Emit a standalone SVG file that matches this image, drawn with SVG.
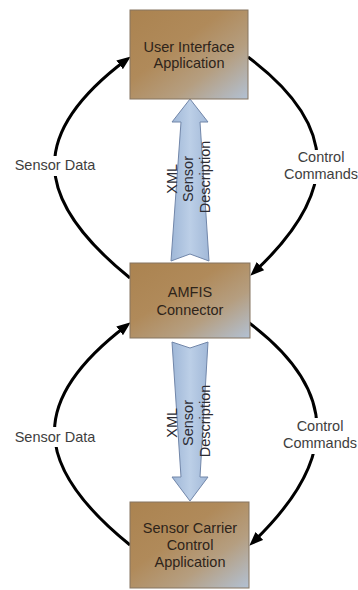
<svg xmlns="http://www.w3.org/2000/svg" width="358" height="590" viewBox="0 0 358 590">
  <defs>
    <linearGradient id="boxFill" x1="0" y1="0" x2="1" y2="1">
      <stop offset="0" stop-color="#ab8350"/>
      <stop offset="0.4" stop-color="#b08a5a"/>
      <stop offset="0.68" stop-color="#b59e80"/>
      <stop offset="1" stop-color="#b2c1d4"/>
    </linearGradient>
    <linearGradient id="flowFill" x1="0" y1="0" x2="1" y2="0">
      <stop offset="0" stop-color="#9fb7d7"/>
      <stop offset="0.5" stop-color="#bccfe7"/>
      <stop offset="1" stop-color="#a2b9d8"/>
    </linearGradient>
    <marker id="head" markerUnits="userSpaceOnUse" markerWidth="14" markerHeight="11" viewBox="0 0 14 11" refX="8" refY="5.5" orient="auto">
      <path d="M0,0 L14,5.5 L0,11 z" fill="#000"/>
    </marker>
  </defs>
  <style>
    .box { fill: url(#boxFill); stroke: #857461; stroke-width: 1; }
    .boxText { font-family: "Liberation Sans", Arial, sans-serif; font-size: 14.5px; fill: #2e241a; text-anchor: middle; }
    .label { font-family: "Liberation Sans", Arial, sans-serif; font-size: 14.5px; fill: #3e3e3e; text-anchor: middle; }
    .flow { fill: url(#flowFill); stroke: #7186a9; stroke-width: 1; }
    .flowText { font-family: "Liberation Sans", Arial, sans-serif; font-size: 14.5px; fill: #2c2c34; text-anchor: middle; }
    .link { fill: none; stroke: #000; stroke-width: 3; marker-end: url(#head); }
    .gap { fill: #fff; }
  </style>

  <rect x="0" y="0" width="358" height="590" fill="#fff"/>

  <!-- curved data / command links -->
  <g id="connectors">
    <path class="link" d="M130,278 C31,198 29,133 126,60"/>
    <path class="link" d="M248,57 C340,126 339,193 254.6,271.6"/>
    <path class="link" d="M130,545 C31,465 29,400 126,326"/>
    <path class="link" d="M248,322 C340,391 338,460 253.6,541.6"/>

    <!-- label backgrounds break the curves -->
    <rect class="gap" x="12" y="156" width="86" height="20"/>
    <rect class="gap" x="284" y="150" width="74" height="34"/>
    <rect class="gap" x="12" y="427" width="86" height="20"/>
    <rect class="gap" x="282" y="418" width="76" height="36"/>

    <text class="label" x="55" y="170">Sensor Data</text>
    <text class="label" x="321" y="162">Control</text>
    <text class="label" x="321" y="179">Commands</text>
    <text class="label" x="55" y="442">Sensor Data</text>
    <text class="label" x="320" y="431">Control</text>
    <text class="label" x="320" y="448">Commands</text>

    <!-- block arrows carrying the sensor description -->
    <g id="flow-up">
      <polygon class="flow" points="190,99 208,122 200,122 209,261 190,254 171,261 181,122 172,122"/>
      <text class="flowText" transform="translate(188,177) rotate(-90)">
        <tspan x="0" y="-11">XML</tspan>
        <tspan x="0" y="5">Sensor</tspan>
        <tspan x="0" y="22">Description</tspan>
      </text>
    </g>
    <g id="flow-down">
      <polygon class="flow" points="172,342 190,348 208,342 200,477 208,477 190,501 172,477 181,477"/>
      <text class="flowText" transform="translate(188,421) rotate(-90)">
        <tspan x="0" y="-11">XML</tspan>
        <tspan x="0" y="5">Sensor</tspan>
        <tspan x="0" y="22">Description</tspan>
      </text>
    </g>
  </g>

  <g id="ui-app">
    <rect class="box" x="130" y="10" width="118" height="89"/>
    <text class="boxText" x="189" y="52">User Interface</text>
    <text class="boxText" x="189" y="68">Application</text>
  </g>

  <g id="amfis-connector">
    <rect class="box" x="130" y="263" width="120" height="75"/>
    <text class="boxText" x="190" y="297">AMFIS</text>
    <text class="boxText" x="190" y="315">Connector</text>
  </g>

  <g id="sensor-carrier">
    <rect class="box" x="130" y="502" width="119" height="86"/>
    <text class="boxText" x="190" y="533">Sensor Carrier</text>
    <text class="boxText" x="190" y="550">Control</text>
    <text class="boxText" x="190" y="567">Application</text>
  </g>
</svg>
